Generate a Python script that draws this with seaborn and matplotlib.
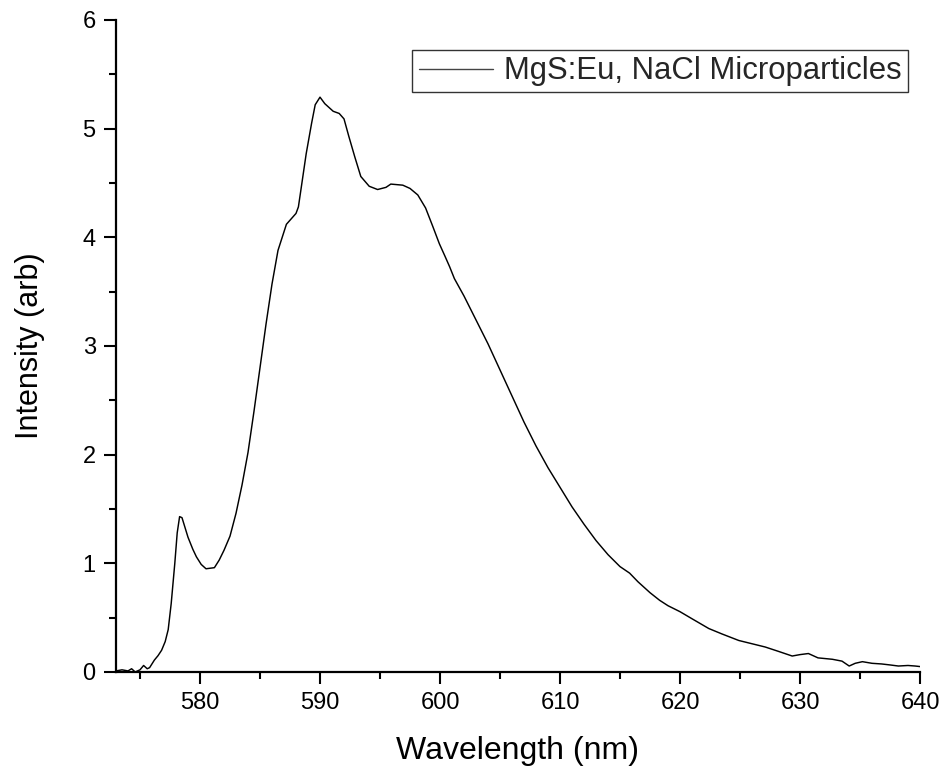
import matplotlib
matplotlib.use("Agg")
import matplotlib.pyplot as plt
from matplotlib.ticker import MultipleLocator
import pandas as pd
import seaborn as sns

# Emission spectrum of MgS:Eu, NaCl microparticles
wavelength_nm = [
    573.0, 573.5, 574.0, 574.3, 574.6, 575.0, 575.3, 575.6, 575.8, 576.2,
    576.5, 576.8, 577.1, 577.35, 577.6, 577.9, 578.1, 578.3, 578.5, 578.75,
    579.0, 579.4, 579.7, 580.1, 580.5, 581.2, 581.6, 582.0, 582.5, 583.0,
    583.5, 584.0, 584.5, 585.0, 585.5, 586.0, 586.5, 587.2, 588.0, 588.2,
    588.4, 588.85, 589.3, 589.6, 590.0, 590.4, 591.1, 591.6, 592.0, 592.4,
    592.9, 593.4, 594.1, 594.8, 595.5, 595.9, 596.9, 597.5, 598.15, 598.8,
    599.4, 599.95, 600.4, 600.8, 601.2, 601.6, 602.0, 603.0, 604.0, 605.0,
    606.0, 607.0, 608.0, 609.0, 610.0, 611.0, 612.0, 613.0, 614.0, 615.0,
    615.8, 616.5, 617.5, 618.3, 619.0, 620.0, 621.0, 622.4, 623.5, 624.9,
    626.0, 627.1, 628.2, 629.35, 630.0, 630.7, 631.5, 632.7, 633.5, 634.1,
    634.6, 635.2, 636.0, 636.8, 637.5, 638.2, 639.0, 639.6, 640.0,
]
intensity_arb = [
    0.01, 0.02, 0.01, 0.03, 0.00, 0.02, 0.06, 0.03, 0.04, 0.11,
    0.15, 0.20, 0.28, 0.39, 0.63, 1.00, 1.28, 1.43, 1.42, 1.33,
    1.24, 1.13, 1.06, 0.99, 0.95, 0.96, 1.03, 1.12, 1.25, 1.46,
    1.72, 2.02, 2.40, 2.80, 3.20, 3.57, 3.88, 4.12, 4.22, 4.28,
    4.43, 4.77, 5.05, 5.22, 5.29, 5.23, 5.16, 5.14, 5.09, 4.93,
    4.74, 4.56, 4.47, 4.44, 4.46, 4.49, 4.48, 4.45, 4.39, 4.27,
    4.10, 3.94, 3.83, 3.73, 3.62, 3.54, 3.46, 3.24, 3.02, 2.78,
    2.54, 2.30, 2.08, 1.88, 1.70, 1.52, 1.36, 1.21, 1.08, 0.97,
    0.91, 0.83, 0.73, 0.66, 0.61, 0.555, 0.49, 0.40, 0.35, 0.29,
    0.26, 0.23, 0.19, 0.147, 0.16, 0.17, 0.13, 0.117, 0.10, 0.055,
    0.08, 0.095, 0.08, 0.074, 0.065, 0.055, 0.06, 0.055, 0.05,
]
series_label = "MgS:Eu, NaCl Microparticles"

df = pd.DataFrame({"Wavelength": wavelength_nm, "Intensity": intensity_arb,
                   "Sample": series_label})

sns.set_theme(style="ticks")
plt.rcParams["font.family"] = ["Liberation Sans", "DejaVu Sans"]

fig = plt.figure(figsize=(9.42, 7.74), dpi=100)
ax = fig.add_axes([116 / 942, 1 - 672 / 774, (920 - 116) / 942, (672 - 20) / 774])

sns.lineplot(data=df, x="Wavelength", y="Intensity", hue="Sample",
             palette=["black"], linewidth=1.05, ax=ax, sort=False,
             estimator=None)

ax.set_xlim(573, 640)
ax.set_ylim(0, 6)
ax.xaxis.set_major_locator(MultipleLocator(10))
ax.xaxis.set_minor_locator(MultipleLocator(5))
ax.yaxis.set_major_locator(MultipleLocator(1))
ax.yaxis.set_minor_locator(MultipleLocator(0.5))

for side in ("top", "right"):
    ax.spines[side].set_visible(False)
for side in ("left", "bottom"):
    ax.spines[side].set_linewidth(1.6)
    ax.spines[side].set_color("black")

ax.tick_params(which="major", length=8.6, width=1.5, color="black",
               labelsize=17, pad=6, labelcolor="black")
ax.tick_params(which="minor", length=5, width=1.5, color="black")

ax.set_xlabel("Wavelength (nm)", fontsize=23, labelpad=16, color="black")
ax.set_ylabel("Intensity (arb)", fontsize=22, labelpad=27, color="black")

leg = ax.legend(loc="upper right",
                bbox_to_anchor=((908 - 116) / (920 - 116), (672 - 50) / (672 - 20)),
                fontsize=22.4, frameon=True, fancybox=False, handlelength=2.4,
                handletextpad=0.35, borderpad=0.2, borderaxespad=0,
                handleheight=0.6)
leg.get_frame().set_edgecolor("black")
leg.get_frame().set_linewidth(1.0)
for line in leg.get_lines():
    line.set_linewidth(1.0)
    line.set_color("#444444")

fig.savefig("out.png", dpi=100)
